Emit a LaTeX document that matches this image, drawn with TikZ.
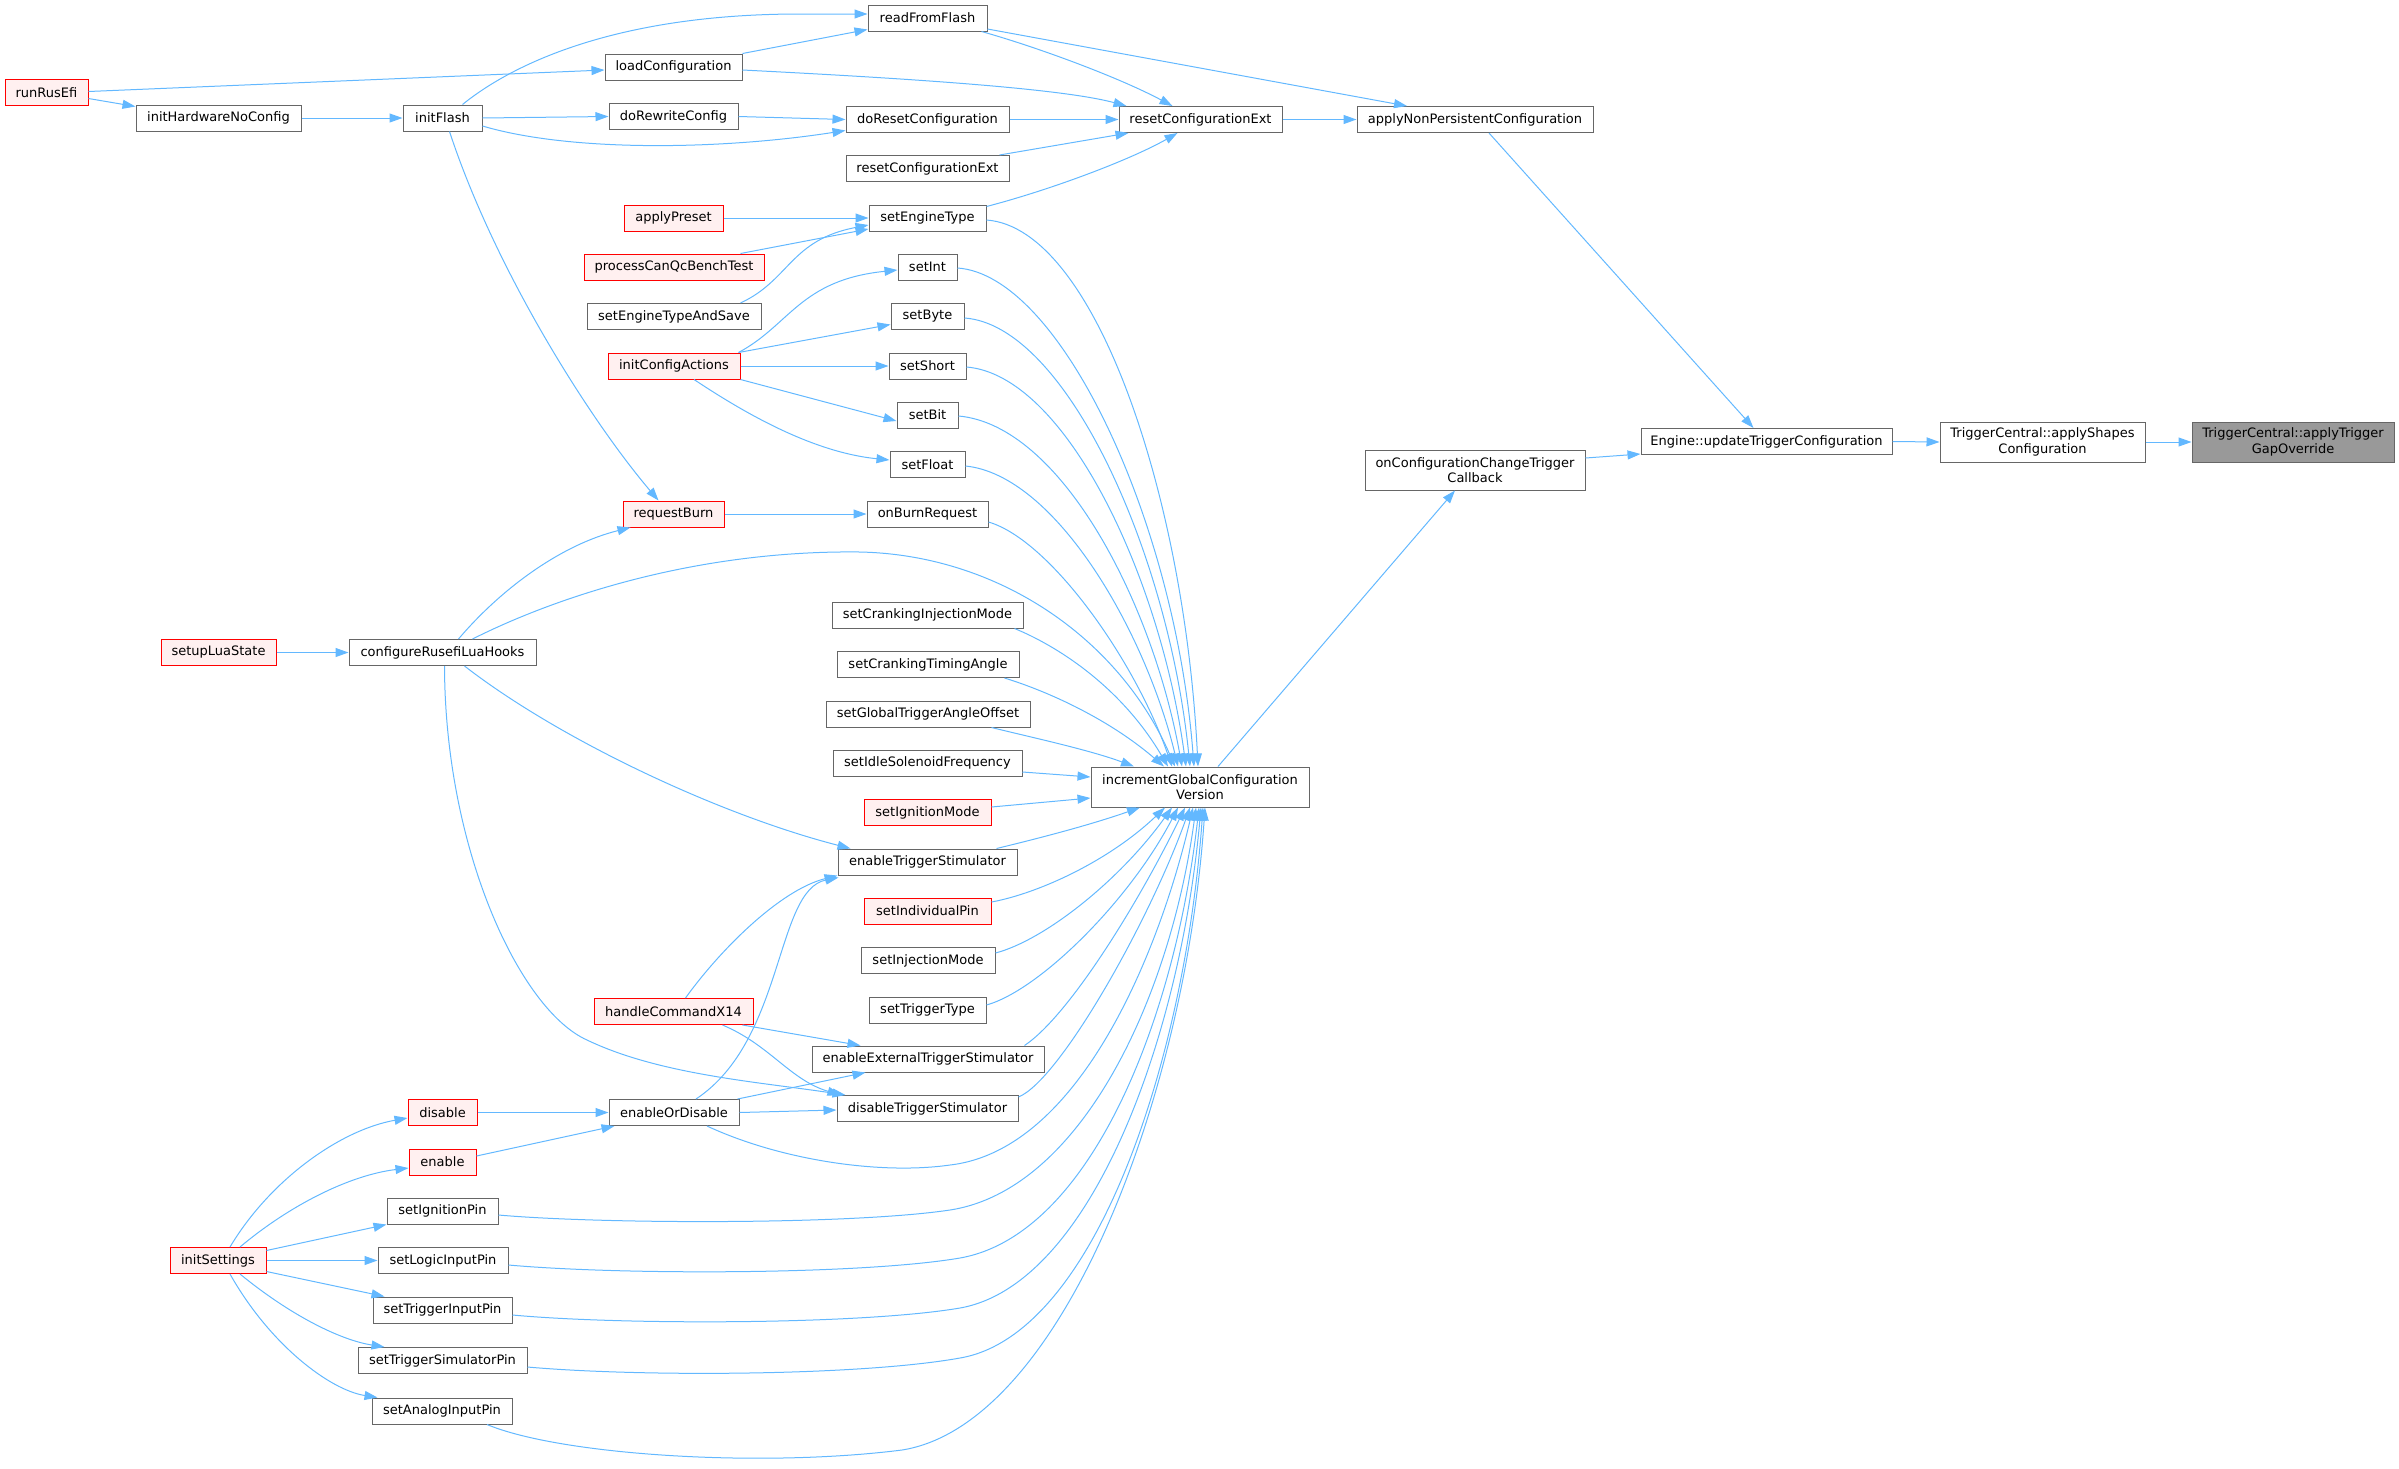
\documentclass[tikz,border=0pt]{standalone}
\usepackage{fontspec}
\setmainfont{DejaVu Sans}
\usetikzlibrary{arrows.meta}
\definecolor{edgec}{HTML}{63B8FF}
\definecolor{bordc}{HTML}{666666}
\definecolor{redfill}{HTML}{FFF0F0}
\definecolor{rootfill}{HTML}{999999}
\tikzset{
 nbox/.style={draw=bordc, fill=white, line width=1pt, minimum height=26pt, inner xsep=2pt, inner ysep=1pt, font=\fontsize{13pt}{15.5pt}\selectfont, text=black},
 rbox/.style={nbox, draw=red, fill=redfill},
 gbox/.style={nbox, fill=rootfill},
 dual/.style={minimum height=40pt, align=center},
 conn/.style={draw=edgec, line width=1pt, -{Triangle[length=13pt,width=9pt]}},
}
\begin{document}
\begin{tikzpicture}[x=1pt,y=-1pt]
\useasboundingbox (0,0) rectangle (2399,1468);
% nodes
\node[rbox, minimum width=83pt] (runRusEfi) at (46.5,92.5) {runRusEfi};
\node[nbox, minimum width=165pt] (initHW) at (218.5,118) {initHardwareNoConfig};
\node[nbox, minimum width=79pt] (initFlash) at (442.5,118) {initFlash};
\node[nbox, minimum width=137pt] (loadCfg) at (673.5,67) {loadConfiguration};
\node[nbox, minimum width=129pt] (doRewrite) at (673.5,116.5) {doRewriteConfig};
\node[rbox, minimum width=99pt] (applyPreset) at (673.5,218) {applyPreset};
\node[rbox, minimum width=180pt] (procCan) at (674,267) {processCanQcBenchTest};
\node[nbox, minimum width=174pt] (setETSave) at (674,316.5) {setEngineTypeAndSave};
\node[rbox, minimum width=132pt] (initCfgAct) at (674,366) {initConfigActions};
\node[nbox, minimum width=119pt] (readFlash) at (927.5,18) {readFromFlash};
\node[nbox, minimum width=163pt] (doReset) at (927.5,119.5) {doResetConfiguration};
\node[nbox, minimum width=163pt] (resetExtB) at (927.5,168.5) {resetConfigurationExt};
\node[nbox, minimum width=117pt] (setET) at (927.5,218) {setEngineType};
\node[nbox, minimum width=59pt] (setInt) at (927.5,267) {setInt};
\node[nbox, minimum width=73pt] (setByte) at (927.5,316.5) {setByte};
\node[nbox, minimum width=77pt] (setShort) at (927.5,366) {setShort};
\node[nbox, minimum width=61pt] (setBit) at (927.5,415) {setBit};
\node[nbox, minimum width=75pt] (setFloat) at (927.5,464.5) {setFloat};
\node[nbox, minimum width=163pt] (resetExt) at (1200.5,119.5) {resetConfigurationExt};
\node[nbox, minimum width=236pt] (applyNP) at (1475,119.5) {applyNonPersistentConfiguration};
\node[nbox, dual, minimum width=220pt] (onCfgCB) at (1475,470) {onConfigurationChangeTrigger\\Callback};
\node[nbox, minimum width=251pt] (engUpd) at (1766.5,441.5) {Engine::updateTriggerConfiguration};
\node[nbox, dual, minimum width=205pt] (applyShapes) at (2042.5,442) {TriggerCentral::applyShapes\\Configuration};
\node[gbox, dual, minimum width=202pt] (gapOvr) at (2293,442) {TriggerCentral::applyTrigger\\GapOverride};
\node[rbox, minimum width=101pt] (reqBurn) at (673.5,514) {requestBurn};
\node[rbox, minimum width=115pt] (setupLua) at (218.5,652.5) {setupLuaState};
\node[nbox, minimum width=187pt] (cfgLua) at (442.5,652.5) {configureRusefiLuaHooks};
\node[nbox, minimum width=121pt] (onBurn) at (927.5,514) {onBurnRequest};
\node[nbox, minimum width=191pt] (setCIM) at (927.5,615) {setCrankingInjectionMode};
\node[nbox, minimum width=182pt] (setCTA) at (928,664.5) {setCrankingTimingAngle};
\node[nbox, minimum width=204pt] (setGTAO) at (928,714) {setGlobalTriggerAngleOffset};
\node[nbox, minimum width=189pt] (setISF) at (927.5,763) {setIdleSolenoidFrequency};
\node[rbox, minimum width=127pt] (setIgnMode) at (927.5,812.5) {setIgnitionMode};
\node[nbox, minimum width=179pt] (enTrigStim) at (927.5,862) {enableTriggerStimulator};
\node[rbox, minimum width=127pt] (setIndPin) at (927.5,911) {setIndividualPin};
\node[nbox, minimum width=134pt] (setInjMode) at (928,960.5) {setInjectionMode};
\node[nbox, dual, minimum width=218pt] (incr) at (1200,787) {incrementGlobalConfiguration\\Version};
\node[rbox, minimum width=159pt] (handleX14) at (673.5,1011.5) {handleCommandX14};
\node[rbox, minimum width=69pt] (disableN) at (442.5,1112.5) {disable};
\node[nbox, minimum width=130pt] (enOrDis) at (674,1112.5) {enableOrDisable};
\node[rbox, minimum width=67pt] (enableN) at (442.5,1162) {enable};
\node[nbox, minimum width=111pt] (setIgnPin) at (442.5,1211) {setIgnitionPin};
\node[rbox, minimum width=96pt] (initSet) at (218,1260.5) {initSettings};
\node[nbox, minimum width=130pt] (setLogPin) at (443,1260.5) {setLogicInputPin};
\node[nbox, minimum width=139pt] (setTrigInPin) at (442.5,1310) {setTriggerInputPin};
\node[nbox, minimum width=169pt] (setTrigSimPin) at (442.5,1360.5) {setTriggerSimulatorPin};
\node[nbox, minimum width=140pt] (setAnaPin) at (442,1411) {setAnalogInputPin};
\node[nbox, minimum width=117pt] (setTrigType) at (927.5,1010) {setTriggerType};
\node[nbox, minimum width=232pt] (enExtTrig) at (928,1059) {enableExternalTriggerStimulator};
\node[nbox, minimum width=181pt] (disTrigStim) at (927.5,1108.5) {disableTriggerStimulator};
% edges: top part
\draw[conn] ([yshift=-6pt]runRusEfi.east) -- ([yshift=-2pt]initHW.north west);
\draw[conn] ([yshift=1pt]runRusEfi.east) -- ([yshift=-3pt]loadCfg.west);
\draw[conn] (initHW.east) -- (initFlash.west);
\draw[conn] ([xshift=20pt]initFlash.north) .. controls (515,62) and (620,14) .. (800,14) -- ([yshift=4pt]readFlash.west);
\draw[conn] (initFlash.east) -- (doRewrite.west);
\draw[conn] ([yshift=-8pt]initFlash.east) .. controls (570,152) and (720,150) .. ([yshift=-11pt]doReset.west);
\draw[conn] ([xshift=7pt]initFlash.south) .. controls (495,270) and (590,420) .. ([xshift=-15pt]reqBurn.north);
\draw[conn] (loadCfg.north east) -- ([yshift=2pt]readFlash.south west);
\draw[conn] ([yshift=-3pt]loadCfg.east) .. controls (900,78) and (1060,88) .. ([xshift=8pt]resetExt.north west);
\draw[conn] (doRewrite.east) -- (doReset.west);
\draw[conn] ([xshift=-6pt]readFlash.south east) .. controls (1040,48) and (1120,78) .. ([xshift=-28pt]resetExt.north);
\draw[conn] ([yshift=-11pt]readFlash.east) -- ([xshift=-68pt]applyNP.north);
\draw[conn] (doReset.east) -- (resetExt.west);
\draw[conn] ([xshift=-10pt]resetExtB.north east) -- ([xshift=10pt]resetExt.south west);
\draw[conn] ([yshift=-2pt]setET.north east) .. controls (1050,190) and (1130,160) .. ([xshift=-23pt]resetExt.south);
\draw[conn] (resetExt.east) -- (applyNP.west);
\draw[conn] ([xshift=14pt]applyNP.south) -- ([xshift=-13pt]engUpd.north);
\draw[conn] (applyPreset.east) -- (setET.west);
\draw[conn] ([xshift=-24pt]procCan.north east) -- ([yshift=-11pt]setET.west);
\draw[conn] ([xshift=-21pt]setETSave.north east) .. controls (790,280) and (790,240) .. ([yshift=-7pt]setET.west);
\draw[conn] ([xshift=-2pt]initCfgAct.north east) .. controls (790,325) and (800,280) .. ([yshift=-3pt]setInt.west);
\draw[conn] ([xshift=-2pt]initCfgAct.north east) -- ([yshift=-8pt]setByte.west);
\draw[conn] (initCfgAct.east) -- (setShort.west);
\draw[conn] (initCfgAct.south east) -- ([yshift=-6pt]setBit.west);
\draw[conn] ([xshift=20pt]initCfgAct.south) .. controls (740,410) and (810,452) .. ([yshift=4.5pt]setFloat.west);
% into incr from above
\draw[conn] ([yshift=-2pt]setET.east) .. controls (1096,228) and (1185,500) .. ([xshift=-2pt]incr.north);
\draw[conn] ([yshift=-1pt]setInt.east) .. controls (1060,275) and (1175,520) .. ([xshift=-6pt]incr.north);
\draw[conn] ([yshift=-1.5pt]setByte.east) .. controls (1065,325) and (1168,550) .. ([xshift=-10pt]incr.north);
\draw[conn] ([yshift=-1pt]setShort.east) .. controls (1065,375) and (1160,575) .. ([xshift=-14pt]incr.north);
\draw[conn] ([yshift=-1pt]setBit.east) .. controls (1060,425) and (1152,600) .. ([xshift=-18pt]incr.north);
\draw[conn] ([yshift=-1.5pt]setFloat.east) .. controls (1055,475) and (1145,630) .. ([xshift=-22pt]incr.north);
\draw[conn] (reqBurn.east) -- (onBurn.west);
\draw[conn] ([yshift=-8pt]onBurn.east) .. controls (1050,540) and (1135,660) .. ([xshift=-28pt]incr.north);
\draw[conn] ([xshift=16pt]cfgLua.north) .. controls (500,590) and (560,545) .. ([xshift=8pt]reqBurn.south west);
\draw[conn] ([xshift=30pt]cfgLua.north) .. controls (560,595) and (700,550) .. (860,552) .. controls (1000,555) and (1120,640) .. ([xshift=-25pt]incr.north);
\draw[conn] ([xshift=22pt]cfgLua.south) .. controls (560,740) and (720,815) .. ([xshift=13pt]enTrigStim.north west);
\draw[conn] ([xshift=2pt]cfgLua.south) .. controls (445,850) and (520,1010) .. (587,1040) .. controls (660,1075) and (760,1082) .. ([xshift=9pt]disTrigStim.north west);
\draw[conn] (setupLua.east) -- (cfgLua.west);
\draw[conn] ([xshift=-9pt]setCIM.south east) .. controls (1055,645) and (1120,685) .. ([xshift=-32pt]incr.north);
\draw[conn] ([xshift=-15pt]setCTA.south east) .. controls (1050,692) and (1110,720) .. ([xshift=-36pt]incr.north);
\draw[conn] ([xshift=-39pt]setGTAO.south east) .. controls (1030,737) and (1090,750) .. ([xshift=-66pt]incr.north);
\draw[conn] ([yshift=-9pt]setISF.east) -- ([yshift=10pt]incr.west);
\draw[conn] ([yshift=5.5pt]setIgnMode.east) -- ([yshift=-11pt]incr.west);
% into incr from below
\draw[conn] ([xshift=-21pt]enTrigStim.north east) .. controls (1040,838) and (1090,825) .. ([xshift=-60pt]incr.south);
\draw[conn] ([yshift=9pt]setIndPin.east) .. controls (1040,893) and (1110,860) .. ([xshift=-35pt]incr.south);
\draw[conn] ([yshift=7.5pt]setInjMode.east) .. controls (1045,940) and (1120,880) .. ([xshift=-28pt]incr.south);
\draw[conn] ([yshift=5pt]setTrigType.east) .. controls (1040,990) and (1130,900) .. ([xshift=-22pt]incr.south);
\draw[conn] ([xshift=-20pt]enExtTrig.north east) .. controls (1070,1015) and (1140,900) .. ([xshift=-15pt]incr.south);
\draw[conn] ([yshift=-2pt]disTrigStim.north east) .. controls (1060,1080) and (1150,920) .. ([xshift=-10pt]incr.south);
\draw[conn] ([xshift=33pt]enOrDis.south) .. controls (780,1160) and (880,1175) .. (950,1165) .. controls (1080,1150) and (1160,950) .. ([xshift=-7pt]incr.south);
\draw[conn] ([yshift=-4pt]setIgnPin.east) .. controls (600,1224) and (850,1225) .. (950,1210) .. controls (1080,1190) and (1170,1000) .. ([xshift=-4pt]incr.south);
\draw[conn] ([yshift=-4.5pt]setLogPin.east) .. controls (620,1275) and (860,1275) .. (960,1258) .. controls (1090,1235) and (1175,1020) .. ([xshift=-1pt]incr.south);
\draw[conn] ([yshift=-5pt]setTrigInPin.east) .. controls (620,1325) and (860,1325) .. (960,1308) .. controls (1090,1285) and (1180,1040) .. ([xshift=1pt]incr.south);
\draw[conn] ([yshift=-6.5pt]setTrigSimPin.east) .. controls (640,1377) and (860,1376) .. (960,1358) .. controls (1095,1335) and (1185,1060) .. ([xshift=3pt]incr.south);
\draw[conn] ([xshift=45pt]setAnaPin.south) .. controls (560,1455) and (760,1468) .. (902,1450) .. controls (1060,1425) and (1185,1100) .. ([xshift=5pt]incr.south);
% lower left cluster
\draw[conn] ([xshift=12pt]handleX14.north) .. controls (720,950) and (780,890) .. (enTrigStim.south west);
\draw[conn] ([xshift=-11pt]handleX14.south east) -- ([xshift=49pt]enExtTrig.north west);
\draw[conn] ([xshift=-31pt]handleX14.south east) .. controls (770,1045) and (790,1080) .. ([xshift=4pt]disTrigStim.north west);
\draw[conn] ([xshift=22pt]enOrDis.north) .. controls (785,1040) and (775,890) .. ([yshift=-2pt,xshift=1pt]enTrigStim.south west);
\draw[conn] ([xshift=-2pt]enOrDis.north east) -- ([xshift=54pt]enExtTrig.south west);
\draw[conn] (enOrDis.east) -- ([yshift=-1.5pt]disTrigStim.west);
\draw[conn] (disableN.east) -- (enOrDis.west);
\draw[conn] ([yshift=6pt]enableN.east) -- ([xshift=6pt]enOrDis.south west);
\draw[conn] ([xshift=12pt]initSet.north) .. controls (270,1180) and (340,1130) .. ([yshift=-5.5pt]disableN.west);
\draw[conn] ([xshift=22pt]initSet.north) .. controls (290,1205) and (350,1175) .. ([yshift=-6pt]enableN.west);
\draw[conn] ([yshift=10pt]initSet.east) -- (setIgnPin.south west);
\draw[conn] (initSet.east) -- (setLogPin.west);
\draw[conn] ([yshift=-11pt]initSet.east) -- ([xshift=12pt]setTrigInPin.north west);
\draw[conn] ([xshift=22pt]initSet.south) .. controls (290,1315) and (340,1340) .. ([xshift=27pt]setTrigSimPin.north west);
\draw[conn] ([xshift=12pt]initSet.south) .. controls (270,1345) and (330,1390) .. ([xshift=6pt]setAnaPin.north west);
% right part
\draw[conn] ([xshift=18pt]incr.north) -- ([xshift=-20pt]onCfgCB.south);
\draw[conn] ([yshift=12pt]onCfgCB.east) -- ([yshift=1pt]engUpd.south west);
\draw[conn] (engUpd.east) -- (applyShapes.west);
\draw[conn] (applyShapes.east) -- (gapOvr.west);
\end{tikzpicture}
\end{document}
